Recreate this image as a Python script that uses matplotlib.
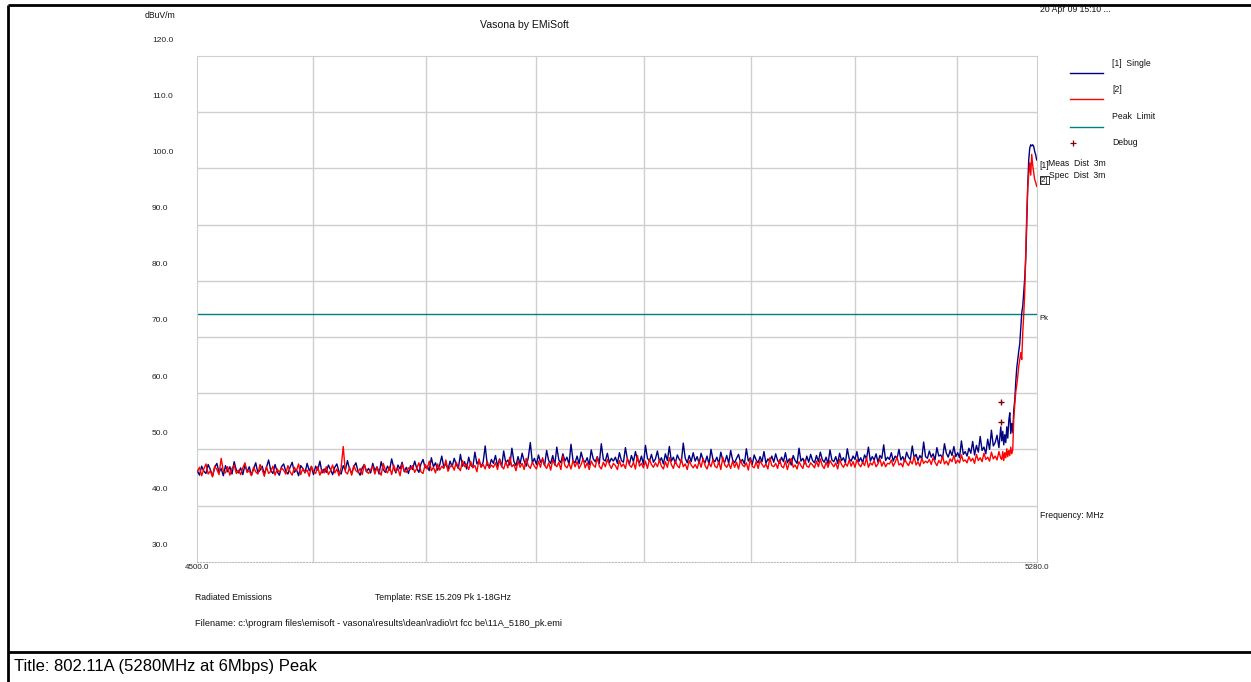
import numpy as np
import matplotlib
matplotlib.use("Agg")
import matplotlib.pyplot as plt
import matplotlib.transforms as mtransforms
from matplotlib.lines import Line2D
from matplotlib.ticker import NullLocator

# Figure size in pixels
W, H = 1251, 682

# Axis range
freq_min, freq_max = 4500.0, 5280.0
level_min, level_max = 30.0, 120.0
level_ticks = [120, 110, 100, 90, 80, 70, 60, 50, 40, 30]
freq_grid = [4600, 4700, 4800, 4900, 5000, 5100, 5200]

# Noise floor, 4500 - 5244 MHz
blue_base = [
    46.2, 45.4, 47.0, 46.1, 45.7, 47.3, 46.4, 45.2, 46.8, 47.5, 45.9, 46.6, 45.3, 47.1, 46.0, 46.9, 45.6, 47.8, 46.3, 45.8,
    46.7, 45.5, 47.2, 46.0, 46.9, 45.4, 46.5, 47.6, 45.8, 46.3, 47.0, 45.6, 46.8, 48.1, 46.2, 45.7, 47.3, 46.0, 45.4, 46.9,
    47.4, 46.1, 45.6, 46.8, 47.7, 45.9, 46.4, 45.3, 47.1, 46.6, 45.8, 47.5, 46.2, 46.9, 45.5, 47.0, 46.3, 47.9, 45.8, 46.5,
    45.9, 47.2, 46.4, 45.5, 46.8, 47.4, 46.0, 45.6, 47.1, 46.3, 48.0, 46.5, 45.7, 46.9, 47.6, 46.1, 45.4, 46.7, 47.3, 46.0,
    46.6, 45.8, 47.5, 46.2, 46.9, 45.6, 47.8, 46.4, 45.9, 47.0, 46.3, 48.3, 46.7, 45.8, 47.2, 46.5, 47.7, 46.0, 46.8, 45.7,
    47.1, 46.4, 47.9, 46.6, 45.9, 47.4, 48.2, 46.7, 47.0, 46.2, 48.5, 46.9, 47.6, 46.3, 47.2, 48.8, 46.8, 47.5, 46.4, 47.9,
    46.9, 48.4, 47.3, 46.6, 49.1, 47.0, 47.8, 46.5, 48.6, 47.2, 46.8, 49.5, 47.4, 48.0, 46.9, 47.7, 50.6, 47.3, 46.8, 48.2,
    47.5, 48.9, 47.0, 48.3, 46.9, 49.7, 47.6, 48.1, 47.2, 50.2, 47.8, 47.1, 48.7, 47.4, 49.3, 47.9, 47.0, 48.5, 51.2, 47.6,
    48.4, 47.3, 49.0, 47.7, 48.2, 47.1, 49.8, 48.0, 47.5, 48.9, 47.2, 50.4, 48.1, 47.6, 49.2, 47.9, 48.6, 47.3, 50.9, 48.0,
    47.6, 48.8, 47.4, 49.5, 48.1, 47.7, 48.5, 47.2, 49.9, 48.3, 47.8, 48.7, 47.5, 51.0, 48.2, 47.9, 49.3, 47.6, 48.4, 47.9,
    48.6, 47.5, 49.4, 48.0, 47.7, 50.3, 48.2, 47.4, 48.9, 47.8, 49.6, 48.1, 47.6, 48.8, 47.3, 50.7, 48.4, 47.9, 49.1, 47.7,
    48.3, 49.7, 47.8, 48.5, 47.4, 49.2, 48.0, 50.5, 47.9, 48.6, 47.5, 49.0, 48.2, 47.7, 51.1, 48.4, 47.6, 48.9, 47.8, 49.4,
    47.9, 48.7, 47.5, 49.3, 48.1, 47.6, 48.8, 47.3, 50.0, 48.2, 47.8, 48.6, 47.4, 49.5, 48.0, 47.7, 48.9, 47.5, 49.8, 48.1,
    47.6, 48.4, 49.1, 47.7, 48.2, 47.4, 50.1, 47.9, 48.5, 47.3, 49.0, 48.1, 47.6, 48.7, 47.8, 49.6, 47.5, 48.3, 47.9, 48.8,
    47.7, 49.2, 48.0, 47.5, 48.6, 47.8, 49.4, 47.6, 48.3, 47.2, 48.9, 48.0, 47.5, 50.2, 47.9, 48.4, 47.4, 48.8, 47.7, 49.1,
    48.0, 47.6, 48.9, 47.8, 49.5, 48.2, 47.7, 48.6, 47.4, 49.9, 48.1, 47.8, 48.7, 47.5, 49.3, 48.0, 48.5, 47.6, 50.1, 48.3,
    47.9, 48.8, 48.2, 49.6, 47.8, 48.5, 47.6, 49.0, 48.3, 50.4, 47.9, 48.7, 48.1, 49.2, 47.7, 48.9, 48.4, 50.8, 48.0, 48.6,
    48.2, 49.4, 47.9, 48.8, 48.4, 50.0, 48.1, 48.7, 47.8, 49.5, 48.6, 48.2, 50.6, 48.5, 49.1, 48.0, 48.9, 48.3, 51.3, 48.7,
    48.4, 49.7, 48.6, 49.2, 48.1, 50.3, 48.8, 49.0, 48.4, 51.0, 49.3, 48.6, 49.8, 48.9, 50.5, 48.7, 49.4, 48.5, 51.5, 49.1,
    49.6, 48.8, 50.2, 49.3, 51.4, 49.0, 50.7, 49.5, 52.3, 49.8, 50.4, 49.2, 51.8, 50.0, 53.4, 50.6, 51.2, 52.5, 50.3, 54.0,
]
red_base = [
    46.0, 46.8, 45.3, 46.5, 47.4, 45.6, 46.2, 45.1, 47.0, 46.4, 45.5, 48.4, 46.1, 45.8, 46.9, 45.4, 46.6, 47.2, 45.7, 46.3,
    45.5, 46.7, 47.6, 45.9, 46.2, 45.3, 46.8, 46.0, 45.6, 47.3, 46.4, 45.2, 46.9, 45.7, 46.1, 47.0, 45.4, 46.5, 45.9, 46.7,
    46.3, 45.6, 47.1, 46.0, 45.4, 46.8, 46.2, 47.4, 45.5, 46.6, 45.9, 46.3, 45.2, 47.0, 46.1, 45.7, 46.9, 45.4, 46.4, 45.8,
    46.9, 45.5, 46.2, 47.2, 45.8, 46.5, 45.3, 46.7, 50.5, 46.0, 45.6, 46.8, 45.4, 47.1, 46.2, 45.9, 46.6, 45.5, 47.3, 46.1,
    45.7, 46.4, 47.0, 45.6, 46.8, 46.1, 45.4, 47.5, 46.3, 45.8, 46.9, 45.5, 47.2, 46.0, 46.6, 45.3, 47.4, 46.2, 45.9, 46.7,
    46.4, 47.1, 45.9, 46.6, 47.6, 46.0, 45.7, 47.3, 46.5, 47.9, 46.2, 46.8, 45.8, 47.4, 46.3, 47.0, 46.6, 48.1, 46.1, 46.9,
    47.2, 46.3, 47.7, 46.8, 46.2, 48.0, 46.9, 47.4, 46.4, 47.8, 46.7, 47.1, 46.0, 48.3, 46.8, 47.3, 46.5, 47.9, 46.6, 47.2,
    46.8, 47.6, 46.4, 48.2, 47.0, 46.5, 47.8, 46.7, 48.6, 46.9, 47.3, 46.2, 47.9, 46.8, 47.5, 46.4, 48.4, 47.1, 46.6, 47.7,
    47.0, 46.5, 47.9, 46.8, 48.5, 47.2, 46.6, 47.6, 46.3, 48.1, 47.4, 46.9, 47.7, 46.4, 48.8, 47.1, 46.7, 47.5, 46.5, 48.0,
    46.9, 47.8, 46.6, 47.3, 48.3, 46.7, 47.6, 46.4, 47.9, 47.2, 46.8, 48.6, 47.0, 46.5, 47.7, 46.9, 48.2, 47.3, 46.6, 47.5,
    47.1, 46.4, 48.0, 46.9, 47.4, 46.6, 48.4, 47.2, 46.8, 47.7, 46.5, 48.9, 47.0, 47.5, 46.7, 47.9, 46.6, 48.2, 47.3, 46.8,
    47.6, 46.9, 48.1, 47.0, 46.5, 47.8, 46.8, 48.5, 47.3, 46.6, 47.9, 47.1, 46.7, 48.3, 46.9, 47.4, 46.4, 48.0, 47.2, 46.7,
    47.3, 46.6, 47.9, 46.8, 48.4, 47.1, 46.5, 47.6, 46.9, 48.2, 47.0, 46.7, 47.8, 46.4, 48.6, 47.2, 46.8, 47.5, 46.6, 47.9,
    46.8, 47.7, 46.5, 48.1, 47.2, 46.9, 47.6, 46.3, 48.3, 47.0, 46.7, 47.8, 46.6, 48.0, 47.3, 46.8, 47.4, 46.5, 48.5, 47.1,
    46.9, 47.5, 46.6, 48.2, 47.0, 46.7, 47.9, 46.4, 47.6, 48.4, 46.8, 47.2, 46.5, 47.8, 47.1, 46.6, 48.1, 47.0, 46.8, 47.6,
    47.2, 46.7, 47.9, 46.9, 48.3, 47.1, 46.6, 47.7, 46.8, 48.0, 47.4, 46.9, 47.6, 46.5, 48.2, 47.3, 46.8, 47.5, 47.0, 48.1,
    47.0, 47.8, 46.8, 48.2, 47.3, 46.9, 47.7, 47.1, 48.5, 46.8, 47.6, 47.2, 48.0, 46.9, 47.4, 48.3, 47.0, 47.8, 46.9, 47.5,
    47.4, 48.1, 47.0, 47.7, 48.6, 47.2, 47.5, 46.9, 48.3, 47.6, 47.1, 48.0, 47.4, 48.7, 47.2, 47.8, 47.0, 48.4, 47.5, 47.9,
    47.6, 48.2, 47.3, 48.5, 47.7, 47.1, 48.0, 47.5, 48.8, 47.4, 47.9, 47.2, 48.3, 47.8, 48.9, 47.5, 48.1, 47.6, 49.0, 47.9,
    48.1, 47.6, 48.7, 47.9, 48.4, 47.5, 49.1, 48.0, 48.5, 47.8, 49.3, 48.2, 48.6, 47.9, 49.5, 48.3, 48.8, 48.1, 49.6, 48.4,
]
base_stop = 5244.0

# Carrier edge, 1 MHz steps from 5245 to 5280 MHz
peak_freq = list(range(5245, 5281))
blue_peak = [51.5, 53.2, 50.8, 52.6, 51.2, 54.0, 52.0, 55.1, 56.5, 52.8, 54.6, 53.0,
             57.0, 58.8, 62.0, 64.5, 66.0, 67.5, 68.8, 71.5, 74.3, 75.5, 78.0, 80.5,
             84.0, 90.0, 97.0, 101.5, 103.6, 104.2, 104.0, 104.2, 103.9, 103.0, 102.4, 101.5]
red_peak = [48.2, 49.6, 48.0, 49.4, 48.5, 50.1, 48.7, 49.8, 48.9, 50.4, 49.2, 50.0,
            55.5, 58.0, 60.2, 61.5, 63.0, 64.8, 66.0, 67.2, 66.0, 70.8, 74.0, 78.0,
            85.0, 92.0, 96.5, 99.0, 101.0, 98.8, 102.5, 100.5, 99.2, 98.0, 97.5, 96.8]

peak_limit = 74.0
debug_freq = [5244, 5244]
debug_level = [58.4, 54.8]

# Colours
BLUE = "#000080"
RED = "#ff0000"
TEAL = "#008080"
DEBUG = "#800000"
GRID = "#cfcfcf"

plt.rcParams['font.family'] = ['Liberation Sans', 'DejaVu Sans']


def fx(px):
    return px / W


def fy(py):
    return 1 - py / H


fig = plt.figure(figsize=(W / 100, H / 100), dpi=100)
fig.patch.set_facecolor("white")

# Plot area placed in pixels
left, right, top, bottom = 197.3, 1036.7, 56.0, 561.7
ax = fig.add_axes([fx(left), fy(bottom), (right - left) / W, (bottom - top) / H])

base_freq = np.linspace(freq_min, base_stop, len(blue_base))
blue_freq = np.concatenate([base_freq, peak_freq])
blue_level = np.concatenate([blue_base, blue_peak])
red_freq = np.concatenate([base_freq, peak_freq])
red_level = np.concatenate([red_base, red_peak])

ax.plot(blue_freq, blue_level, color=BLUE, lw=1.0, zorder=3)
ax.plot(red_freq, red_level, color=RED, lw=1.0, zorder=4)
ax.axhline(peak_limit, color=TEAL, lw=1.0, zorder=2)
ax.plot(debug_freq, debug_level, ls="none", marker="+", ms=5, mew=1.0, color=DEBUG, zorder=5)

ax.set_xscale("log")
ax.set_xlim(freq_min, freq_max)
ax.set_ylim(level_min, level_max)
ax.xaxis.set_minor_locator(NullLocator())
ax.set_xticks(freq_grid)
ax.set_yticks(level_ticks[1:-1])
ax.set_xticklabels([])
ax.set_yticklabels([])
ax.tick_params(length=0)
ax.grid(True, color=GRID, lw=1.0, zorder=1)
for side in ["left", "right", "top"]:
    ax.spines[side].set_color(GRID)
ax.spines["bottom"].set_color("#bdbdbd")
ax.spines["bottom"].set_linestyle(":")

# y labels sit about 16 px above their grid line
ylab_trans = mtransforms.offset_copy(ax.get_yaxis_transform(), fig=fig, x=0, y=16, units="dots")
for v in level_ticks:
    ax.text((152 - left) / (right - left), v, f"{v:.1f}", transform=ylab_trans,
            fontsize=6.0, ha="left", va="center", color="#222222")

xlab_trans = mtransforms.offset_copy(ax.get_xaxis_transform(), fig=fig, x=0, y=-6, units="dots")
for f in [freq_min, freq_max]:
    ax.text(f, 0, f"{f:.1f}", transform=xlab_trans, fontsize=5.8, ha="center", va="center",
            color="#222222")

# Texts around the chart
small = dict(fontsize=6.2, color="#111111", va="center")
fig.text(fx(160), fy(16), "dBuV/m", ha="center", **small)
fig.text(fx(524), fy(25), "Vasona by EMiSoft", ha="center", fontsize=7.6, color="#111111", va="center")
fig.text(fx(1040), fy(9), "20 Apr 09 15:10 ...", ha="left", fontsize=6.2, color="#111111", va="center")

fig.text(fx(1039), fy(165), "[1]", ha="left", **small)
fig.text(fx(1048), fy(164), "Meas  Dist  3m", ha="left", **small)
fig.text(fx(1040), fy(180), "[2]", ha="left", fontsize=5.5, color="#111111", va="center",
         bbox=dict(boxstyle="square,pad=0.05", fc="white", ec="#111111", lw=0.6))
fig.text(fx(1049), fy(176), "Spec  Dist  3m", ha="left", **small)
fig.text(fx(1039), fy(319), "Pk", ha="left", fontsize=5.5, color="#111111", va="center")
fig.text(fx(1040), fy(516), "Frequency: MHz", ha="left", **small)

# Legend on the right
legend_items = [("[1]  Single", BLUE, 64, 72.7),
                ("[2]", RED, 90, 99.3),
                ("Peak  Limit", TEAL, 116.7, 126.7)]
for label, color, ty, ly in legend_items:
    fig.add_artist(Line2D([fx(1070), fx(1103)], [fy(ly), fy(ly)], color=color, lw=1.0))
    fig.text(fx(1112), fy(ty), label, ha="left", **small)
fig.add_artist(Line2D([fx(1073)], [fy(142.7)], ls="none", marker="+", ms=4, mew=0.9, color=DEBUG))
fig.text(fx(1112), fy(142.3), "Debug", ha="left", **small)

# Footer texts
fig.text(fx(195), fy(597), "Radiated Emissions", ha="left", **small)
fig.text(fx(375), fy(597), "Template: RSE 15.209 Pk 1-18GHz", ha="left", **small)
fig.text(fx(195), fy(623), "Filename: c:\\program files\\emisoft - vasona\\results\\dean\\radio\\rt fcc be\\11A_5180_pk.emi",
         ha="left", fontsize=6.7, color="#111111", va="center")

# Page frame
frame = dict(color="black", lw=2.0, solid_capstyle="butt")
fig.add_artist(Line2D([fx(8), fx(W)], [fy(5), fy(5)], **frame))
fig.add_artist(Line2D([fx(8), fx(8)], [fy(5), fy(H)], **frame))
fig.add_artist(Line2D([fx(8), fx(W)], [fy(652), fy(652)], **frame))
fig.text(fx(14), fy(667), "Title: 802.11A (5280MHz at 6Mbps) Peak", ha="left", va="center",
         fontsize=12, color="black")

fig.savefig("out.png", dpi=100)
